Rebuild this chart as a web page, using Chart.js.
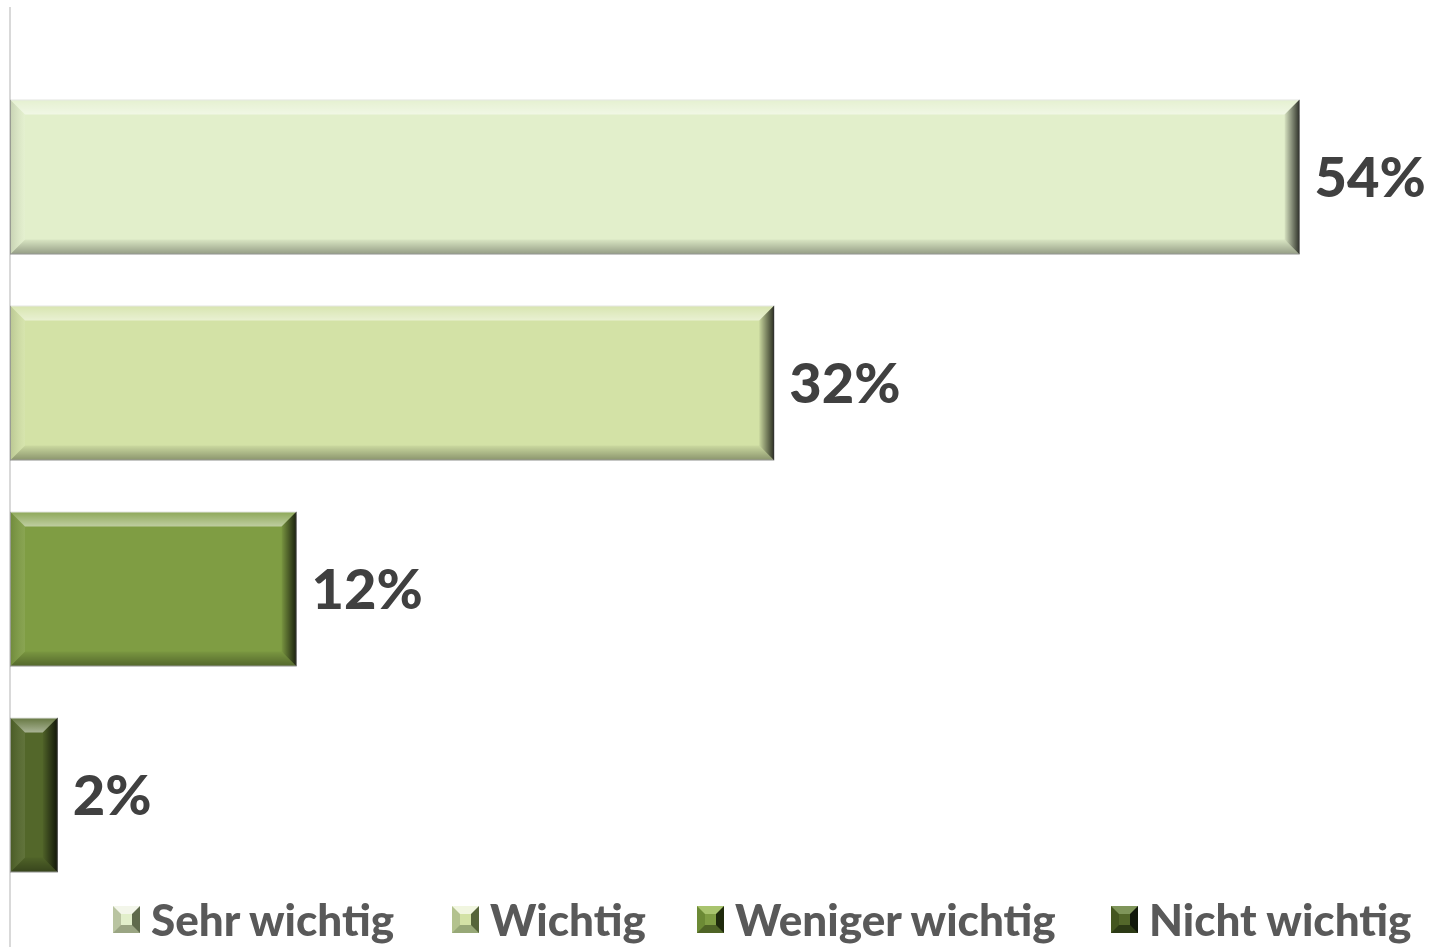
<!DOCTYPE html>
<html>
<head>
<meta charset="utf-8">
<script src="https://cdn.jsdelivr.net/npm/chart.js@4/dist/chart.umd.min.js"></script>
<style>
  html, body { margin: 0; padding: 0; background: #fff; overflow: hidden; }
  #frame { position: relative; width: 1431px; height: 947px; overflow: hidden; }
  #legend {
    position: absolute; left: 0; top: 893px; width: 1431px; height: 54px;
    font-family: Lato, "Open Sans", sans-serif; font-weight: 900; font-size: 44px; color: #595959;
  }
  .item { position: absolute; top: 0; display: flex; align-items: center; gap: 11px; white-space: nowrap; }
  .box { width: 11px; height: 11px; border: 8px solid; }
</style>
</head>
<body>
<div id="frame">
  <canvas id="ratingChart" width="1431" height="966"></canvas>
  <div id="legend"></div>
</div>
<script>
const seriesNames = ["Sehr wichtig", "Wichtig", "Weniger wichtig", "Nicht wichtig"]
const seriesValues = [54, 32, 12, 2]
const barColors = ["#e2efcb", "#d3e2a6", "#7f9d43", "#53672a"]
// marker bevel: top, right, bottom, left
const markerEdges = [
  ["#f3f6ea", "#5f6a4c", "#9aa583", "#b9c4a1"],
  ["#f1f6e0", "#56653a", "#97a877", "#b3c28e"],
  ["#a9c46e", "#1f2a0c", "#4f6426", "#6c8a35"],
  ["#7f955a", "#10170a", "#2c3a15", "#44561f"]
]
const legendLeft = [113, 452, 697, 1111]

const bevelPlugin = {
  id: "bevel",
  afterDatasetsDraw(chart) {
    const ctx = chart.ctx
    const face = (pts, c0, c1, x0, y0, x1, y1) => {
      const g = ctx.createLinearGradient(x0, y0, x1, y1)
      g.addColorStop(0, c0)
      g.addColorStop(1, c1)
      ctx.beginPath()
      pts.forEach(([px, py], k) => k ? ctx.lineTo(px, py) : ctx.moveTo(px, py))
      ctx.closePath()
      ctx.fillStyle = g
      ctx.fill()
    }
    chart.data.datasets.forEach((ds, i) => {
      chart.getDatasetMeta(i).data.forEach(bar => {
        const { x, y, base, height } = bar.getProps(["x", "y", "base", "height"], true)
        const l = Math.min(base, x), r = Math.max(base, x)
        const t = y - height / 2, b = y + height / 2
        const s = Math.min(15, (r - l) / 2, height / 2)
        ctx.save()
        face([[l, t], [r, t], [r - s, t + s], [l + s, t + s]], "rgba(255,255,255,0.1)", "rgba(255,255,255,0.5)", 0, t, 0, t + s)
        face([[l, t], [l + s, t + s], [l + s, b - s], [l, b]], "rgba(0,0,0,0.12)", "rgba(255,255,255,0.08)", l, 0, l + s, 0)
        face([[r, t], [r, b], [r - s, b - s], [r - s, t + s]], "rgba(0,0,0,0.8)", "rgba(0,0,0,0.05)", r, 0, r - s, 0)
        face([[l, b], [l + s, b - s], [r - s, b - s], [r, b]], "rgba(0,0,0,0.35)", "rgba(0,0,0,0.04)", 0, b, 0, b - s)
        ctx.restore()
      })
    })
  }
}

const valueLabels = {
  id: "valueLabels",
  afterDatasetsDraw(chart) {
    const ctx = chart.ctx
    ctx.save()
    ctx.font = "900 56px Lato, 'Open Sans', sans-serif"
    ctx.fillStyle = "#404040"
    ctx.textAlign = "left"
    ctx.textBaseline = "middle"
    chart.data.datasets.forEach((ds, i) => {
      chart.getDatasetMeta(i).data.forEach((bar, j) => {
        ctx.fillText(ds.data[j] + "%", bar.x + 15, bar.y + 2)
      })
    })
    ctx.restore()
  }
}

const datasets = seriesNames.map((name, i) => ({
  label: name,
  data: [seriesValues[i]],
  backgroundColor: barColors[i],
  borderColor: "rgba(90,100,70,0.35)",
  borderWidth: 1,
  borderSkipped: false,
  categoryPercentage: 0.862,
  barPercentage: 0.752
}))

new Chart(document.getElementById("ratingChart"), {
  type: "bar",
  data: { labels: [""], datasets },
  options: {
    indexAxis: "y",
    responsive: false,
    animation: false,
    layout: { padding: { left: 10, right: 12, top: 8, bottom: 2 } },
    scales: {
      x: { display: false, min: 0, max: 59 },
      y: {
        display: true,
        ticks: { display: false },
        grid: { display: false, drawTicks: false },
        border: { display: true, color: "#d9d9d9", width: 2 }
      }
    },
    plugins: {
      legend: { display: false },
      tooltip: { enabled: false }
    }
  },
  plugins: [bevelPlugin, valueLabels]
})

const legend = document.getElementById("legend")
seriesNames.forEach((name, i) => {
  const [top, right, bottom, left] = markerEdges[i]
  legend.innerHTML += `<div class="item" style="left:${legendLeft[i]}px"><span class="box" style="background:${barColors[i]};border-color:${top} ${right} ${bottom} ${left}"></span><span>${name}</span></div>`
})
</script>
</body>
</html>
